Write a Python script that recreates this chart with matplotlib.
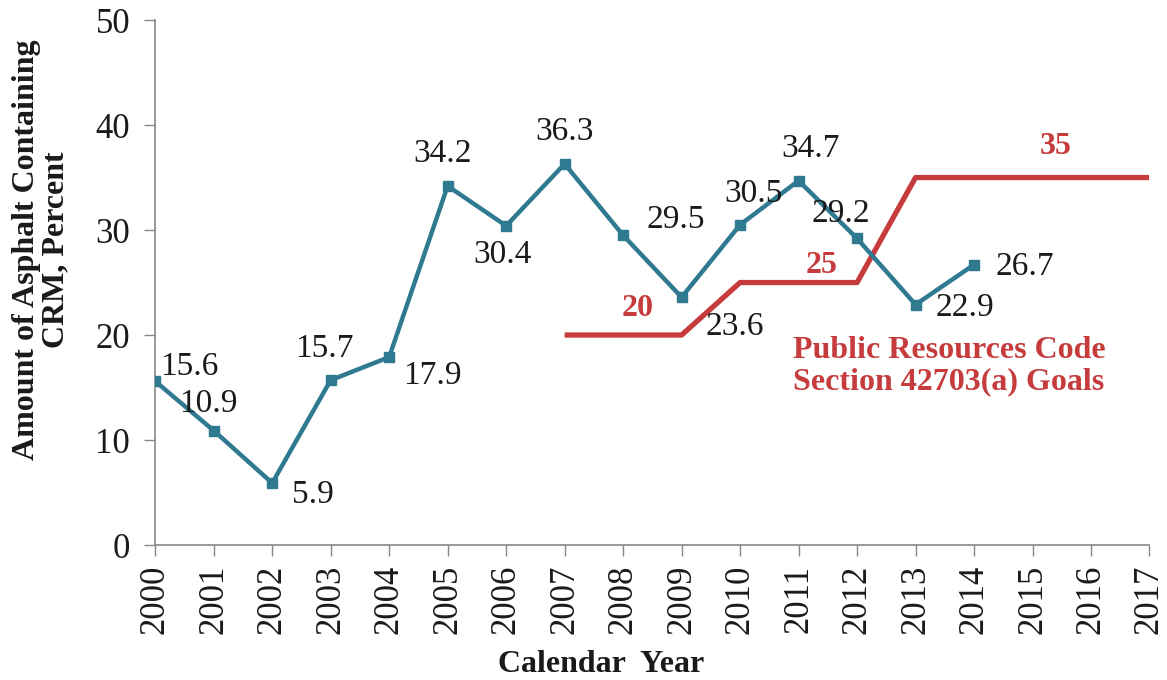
import matplotlib.pyplot as plt

years = [2000, 2001, 2002, 2003, 2004, 2005, 2006, 2007, 2008, 2009, 2010, 2011, 2012, 2013, 2014]
crm_pct = [15.6, 10.9, 5.9, 15.7, 17.9, 34.2, 30.4, 36.3, 29.5, 23.6, 30.5, 34.7, 29.2, 22.9, 26.7]

goal_years = [2007, 2009, 2010, 2012, 2013, 2017]
goal_pct = [20, 20, 25, 25, 35, 35]

# label offsets in pixels (dx, dy) and horizontal alignment for each data point
label_offsets = [(5, 14, 'left'), (-5, 27, 'center'), (20, -12, 'left'), (-6, 31, 'center'),
                 (14, -19, 'left'), (-5, 32, 'center'), (-4, -29, 'center'), (0, 32, 'center'),
                 (23, 16, 'left'), (24, -30, 'left'), (13, 31, 'center'), (12, 32, 'center'),
                 (-16, 25, 'center'), (20, -3, 'left'), (21, -2, 'left')]

BLUE = '#2f7a90'
RED = '#c63c3d'

plt.rcParams['font.family'] = ['Liberation Serif', 'DejaVu Serif']

fig = plt.figure(figsize=(11.67, 6.8), dpi=100)
ax = fig.add_axes([0.133, 0.1985, 0.852, 0.772])

ax.plot(goal_years, goal_pct, color=RED, lw=3.8, solid_capstyle='butt', zorder=2)
ax.plot(years, crm_pct, color=BLUE, lw=3.2, marker='s', markersize=7.5, zorder=3)

for x, y, (dx, dy, ha) in zip(years, crm_pct, label_offsets):
    ax.annotate(f'{y}', (x, y), xytext=(dx, dy), textcoords='offset pixels',
                ha=ha, va='center', fontsize=24, color='#1a1a1a', zorder=4)

ax.text(2008.25, 22.5, '20', color=RED, fontsize=23, fontweight='bold', ha='center', va='center')
ax.text(2011.4, 26.6, '25', color=RED, fontsize=23, fontweight='bold', ha='center', va='center')
ax.text(2015.4, 38.0, '35', color=RED, fontsize=23, fontweight='bold', ha='center', va='center')
ax.text(2010.9, 17.0, 'Public Resources Code\nSection 42703(a) Goals', color=RED, fontsize=23,
        fontweight='bold', ha='left', va='center', linespacing=1.1)

ax.set_xlim(2000, 2017)
ax.set_ylim(0, 50)
ax.set_xticks(range(2000, 2018))
ax.set_xticklabels([str(y) for y in range(2000, 2018)], rotation=90)
ax.set_yticks(range(0, 51, 10))
ax.tick_params(axis='both', labelsize=25, length=8, width=1, color='#888888', direction='out',
               labelcolor='#1a1a1a')
ax.tick_params(axis='y', pad=10)
ax.tick_params(axis='x', pad=6)

for s in ['top', 'right']:
    ax.spines[s].set_visible(False)
for s in ['left', 'bottom']:
    ax.spines[s].set_color('#888888')
    ax.spines[s].set_linewidth(1.2)

ax.set_xlabel('Calendar  Year', fontsize=23, fontweight='bold', color='#1a1a1a')
ax.xaxis.set_label_coords(0.448, -0.2)
ax.set_ylabel('Amount of Asphalt Containing\nCRM, Percent', fontsize=23, fontweight='bold',
              color='#1a1a1a', linespacing=1.05)
ax.yaxis.set_label_coords(-0.085, 0.562)

fig.savefig('out.png', dpi=100)
